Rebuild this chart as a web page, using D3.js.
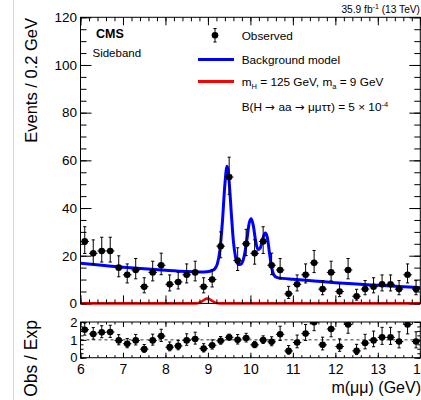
<!DOCTYPE html>
<html>
<head>
<meta charset="utf-8">
<script src="https://cdn.jsdelivr.net/npm/d3@7"></script>
<style>
  body { margin: 0; background: #fff; }
  svg { display: block; }
  text { font-family: "Liberation Sans", Arial, Helvetica, sans-serif; fill: #000; }
  .sym { font-family: "DejaVu Sans", sans-serif; }
</style>
</head>
<body>
<svg id="chart" width="421" height="400"></svg>
<script>
// Dimuon mass bins (0.2 GeV wide), centres in GeV
const binCenters = [6.1, 6.3, 6.5, 6.7, 6.9, 7.1, 7.3, 7.5, 7.7, 7.9,
                    8.1, 8.3, 8.5, 8.7, 8.9, 9.1, 9.3, 9.5, 9.7, 9.9,
                    10.1, 10.3, 10.5, 10.7, 10.9, 11.1, 11.3, 11.5, 11.7, 11.9,
                    12.1, 12.3, 12.5, 12.7, 12.9, 13.1, 13.3, 13.5, 13.7, 13.9];
// Observed events per bin
const observed = [26, 21, 22, 22, 15, 12, 14, 7, 13, 16,
                  8, 9, 12, 13, 7, 10, 24, 53, 18, 25,
                  21, 26, 16, 14, 4, 8, 12, 17, 6, 13,
                  5, 14, 3, 6, 7, 8, 8, 6, 12, 6];
// Observed / expected per bin
const ratio = [1.57, 1.33, 1.42, 1.44, 0.97, 0.78, 0.97, 0.48, 0.97, 1.21,
               0.59, 0.66, 0.97, 1.05, 0.51, 0.70, 0.95, 1.14, 1.00, 1.10,
               0.72, 0.99, 0.89, 1.31, 0.38, 0.85, 1.35, 1.99, 0.72, 1.61,
               0.63, 1.86, 0.38, 0.82, 0.97, 1.14, 1.14, 0.91, 1.86, 0.91];
// Background model (continuum + Upsilon(1S,2S,3S) peaks)
const bgMass = [6.0, 6.5, 7.0, 7.5, 8.0, 8.5, 8.9, 9.05, 9.15, 9.22, 9.28, 9.34, 9.40, 9.45,
                9.50, 9.55, 9.60, 9.65, 9.72, 9.78, 9.85, 9.92, 9.97, 10.02, 10.07, 10.12,
                10.18, 10.23, 10.29, 10.35, 10.40, 10.45, 10.50, 10.55, 10.62, 10.75,
                11.0, 11.5, 12.0, 12.5, 13.0, 13.5, 14.0];
const bgEvents = [16.8, 16.0, 15.2, 14.5, 13.9, 13.4, 13.2, 13.5, 14.3, 16.5, 22, 34, 50, 57.5,
                  51, 38, 26, 19.5, 16.3, 16.5, 19.5, 27, 33.5, 35.5, 32.5, 26.5,
                  22.6, 23.2, 27, 29.5, 27.5, 21, 15, 12, 10.9, 10.5,
                  10.1, 9.4, 8.7, 8.1, 7.6, 7.1, 6.6];
// Signal model, mH = 125 GeV, ma = 9 GeV
const sigMass = [6.0, 8.72, 8.80, 8.86, 8.92, 8.97, 9.02, 9.08, 9.14, 9.20, 9.28, 14.0];
const sigEvents = [0, 0, 0.3, 0.9, 1.6, 2.0, 1.9, 1.3, 0.6, 0.15, 0, 0];
// Axis ticks
const yTicks = [0, 20, 40, 60, 80, 100, 120];
const xTicks = [6, 7, 8, 9, 10, 11, 12, 13, 14];
const rTicks = [0, 1, 2];

// Approximate Poisson (Garwood) intervals
const errUp = n => (n + 1) * Math.pow(1 - 1 / (9 * (n + 1)) + 1 / (3 * Math.sqrt(n + 1)), 3) - n;
const errDn = n => n === 0 ? 0 : n - n * Math.pow(1 - 1 / (9 * n) - 1 / (3 * Math.sqrt(n)), 3);

const svg = d3.select("#chart");
const L = 80.5, R = 420.3;
const T1 = 17.3, B1 = 303.4;
const T2 = 322, B2 = 357.7;
const halfBin = 0.1;

const x = d3.scaleLinear().domain([6, 14]).range([L, R]);
const y = d3.scaleLinear().domain([0, 120]).range([B1, T1]);
const yr = d3.scaleLinear().domain([0, 2]).range([B2, T2]);

// page edge line
svg.append("line").attr("x1", 13.5).attr("x2", 13.5).attr("y1", 0).attr("y2", 400)
  .attr("stroke", "#d6d6d6").attr("stroke-width", 1);

const defs = svg.append("defs");
defs.append("clipPath").attr("id", "clipTop").append("rect")
  .attr("x", L).attr("y", T1).attr("width", R - L).attr("height", B1 - T1 + 2);
defs.append("clipPath").attr("id", "clipBot").append("rect")
  .attr("x", L).attr("y", T2).attr("width", R - L).attr("height", B2 - T2);

// ---------- upper panel ----------
const upper = svg.append("g");

const line = d3.line().curve(d3.curveMonotoneX);
const gCurves = upper.append("g").attr("clip-path", "url(#clipTop)");
gCurves.append("path")
  .attr("d", line(sigMass.map((m, i) => [x(m), y(sigEvents[i])])))
  .attr("fill", "none").attr("stroke", "#ff0000").attr("stroke-width", 2.6);
gCurves.append("path")
  .attr("d", line(bgMass.map((m, i) => [x(m), y(bgEvents[i])])))
  .attr("fill", "none").attr("stroke", "#0000ff").attr("stroke-width", 3);

function drawPoints(g, xs, vals, ys, ups, dns) {
  const pts = g.selectAll("g.pt").data(xs.map((c, i) => ({ c, v: vals[i], u: ups[i], d: dns[i] })))
    .enter().append("g").attr("class", "pt");
  pts.append("line")
    .attr("x1", d => x(d.c)).attr("x2", d => x(d.c))
    .attr("y1", d => ys(d.v + d.u)).attr("y2", d => ys(d.v - d.d))
    .attr("stroke", "#000").attr("stroke-width", 1);
  pts.append("line")
    .attr("x1", d => x(d.c - halfBin)).attr("x2", d => x(d.c + halfBin))
    .attr("y1", d => ys(d.v)).attr("y2", d => ys(d.v))
    .attr("stroke", "#000").attr("stroke-width", 1);
  pts.append("line")
    .attr("x1", d => x(d.c) - 1.6).attr("x2", d => x(d.c) + 1.6)
    .attr("y1", d => ys(d.v + d.u)).attr("y2", d => ys(d.v + d.u))
    .attr("stroke", "#000").attr("stroke-width", 1);
  pts.append("line")
    .attr("x1", d => x(d.c) - 1.6).attr("x2", d => x(d.c) + 1.6)
    .attr("y1", d => ys(d.v - d.d)).attr("y2", d => ys(d.v - d.d))
    .attr("stroke", "#000").attr("stroke-width", 1);
  pts.append("circle")
    .attr("cx", d => x(d.c)).attr("cy", d => ys(d.v)).attr("r", 3.3).attr("fill", "#000");
}

drawPoints(upper.append("g"), binCenters, observed, y,
  observed.map(errUp), observed.map(errDn));

// frame
upper.append("rect").attr("x", L).attr("y", T1).attr("width", R - L).attr("height", B1 - T1)
  .attr("fill", "none").attr("stroke", "#000").attr("stroke-width", 1);

const minorX = d3.range(6, 14.001, 0.2).map(v => +v.toFixed(1));
const minorY = d3.range(0, 120.001, 5);

function styleAxis(g) {
  g.select(".domain").remove();
  g.selectAll("line").attr("stroke", "#000");
  g.selectAll("text").attr("fill", "#000").style("font-family", null);
}

// left axis
upper.append("g").attr("transform", `translate(${L},0)`)
  .call(d3.axisLeft(y).tickValues(minorY).tickSize(-6).tickFormat(""))
  .call(styleAxis);
upper.append("g").attr("transform", `translate(${L},0)`)
  .call(d3.axisLeft(y).tickValues(yTicks).tickSize(-11).tickPadding(3.5).tickFormat(d3.format("d")))
  .call(styleAxis)
  .call(g => g.selectAll("text").attr("font-size", "13.5px"));
// right axis
upper.append("g").attr("transform", `translate(${R},0)`)
  .call(d3.axisRight(y).tickValues(minorY).tickSize(-6).tickFormat(""))
  .call(styleAxis);
upper.append("g").attr("transform", `translate(${R},0)`)
  .call(d3.axisRight(y).tickValues(yTicks).tickSize(-11).tickFormat(""))
  .call(styleAxis);
// bottom and top edges of the upper panel
[[B1, d3.axisBottom], [T1, d3.axisTop]].forEach(([yy, ax]) => {
  upper.append("g").attr("transform", `translate(0,${yy})`)
    .call(ax(x).tickValues(minorX).tickSize(-4).tickFormat(""))
    .call(styleAxis);
  upper.append("g").attr("transform", `translate(0,${yy})`)
    .call(ax(x).tickValues(xTicks).tickSize(-8).tickFormat(""))
    .call(styleAxis);
});

// titles and labels
svg.append("text").attr("transform", "translate(37,18) rotate(-90)")
  .attr("text-anchor", "end").attr("font-size", "16.5px").text("Events / 0.2 GeV");

svg.append("text").attr("x", 96).attr("y", 37.7).attr("font-size", "12.5px")
  .attr("font-weight", "bold").text("CMS");
svg.append("text").attr("x", 92.5).attr("y", 57.3).attr("font-size", "11.5px").text("Sideband");

const lumi = svg.append("text").attr("x", 420).attr("y", 13.3).attr("text-anchor", "end")
  .attr("font-size", "10.2px");
lumi.append("tspan").text("35.9 fb");
lumi.append("tspan").attr("dy", -4).attr("font-size", "7px").text("-1");
lumi.append("tspan").attr("dy", 4).text(" (13 TeV)");

// legend
const lg = svg.append("g");
const lgX = 241.7, fs = "11.8px";
lg.append("line").attr("x1", 215).attr("x2", 215).attr("y1", 28.5).attr("y2", 42)
  .attr("stroke", "#000");
lg.append("line").attr("x1", 213.4).attr("x2", 216.6).attr("y1", 28.5).attr("y2", 28.5).attr("stroke", "#000");
lg.append("line").attr("x1", 213.4).attr("x2", 216.6).attr("y1", 42).attr("y2", 42).attr("stroke", "#000");
lg.append("circle").attr("cx", 215).attr("cy", 35.2).attr("r", 3.3).attr("fill", "#000");
lg.append("text").attr("x", lgX).attr("y", 39.7).attr("font-size", fs).text("Observed");

lg.append("line").attr("x1", 198).attr("x2", 234).attr("y1", 59.5).attr("y2", 59.5)
  .attr("stroke", "#0000ff").attr("stroke-width", 3);
lg.append("text").attr("x", lgX).attr("y", 64).attr("font-size", fs).text("Background model");

lg.append("line").attr("x1", 198).attr("x2", 234).attr("y1", 81.5).attr("y2", 81.5)
  .attr("stroke", "#ff0000").attr("stroke-width", 3);
const sigLbl = lg.append("text").attr("x", lgX).attr("y", 85.8).attr("font-size", fs);
sigLbl.append("tspan").text("m");
sigLbl.append("tspan").attr("dy", 3.5).attr("font-size", "7.5px").text("H");
sigLbl.append("tspan").attr("dy", -3.5).text(" = 125 GeV, m");
sigLbl.append("tspan").attr("dy", 3.5).attr("font-size", "7.5px").text("a");
sigLbl.append("tspan").attr("dy", -3.5).text(" = 9 GeV");

const brLbl = lg.append("text").attr("x", lgX).attr("y", 111).attr("font-size", fs);
brLbl.append("tspan").text("B(H ");
brLbl.append("tspan").attr("class", "sym").text("\u2192");
brLbl.append("tspan").text(" aa ");
brLbl.append("tspan").attr("class", "sym").text("\u2192");
brLbl.append("tspan").text(" \u03bc\u03bc\u03c4\u03c4) = 5 \u00d7 10");
brLbl.append("tspan").attr("dy", -4.5).attr("font-size", "7.5px").text("-4");

// ---------- ratio panel ----------
const lower = svg.append("g");
lower.append("line").attr("x1", L).attr("x2", R).attr("y1", yr(1)).attr("y2", yr(1))
  .attr("stroke", "#333").attr("stroke-width", 1).attr("stroke-dasharray", "3,3");

drawPoints(lower.append("g").attr("clip-path", "url(#clipBot)"), binCenters, ratio, yr,
  observed.map((n, i) => ratio[i] * errUp(n) / n),
  observed.map((n, i) => ratio[i] * errDn(n) / n));

lower.append("rect").attr("x", L).attr("y", T2).attr("width", R - L).attr("height", B2 - T2)
  .attr("fill", "none").attr("stroke", "#000").attr("stroke-width", 1);

const minorR = d3.range(0, 2.001, 0.25);
lower.append("g").attr("transform", `translate(${L},0)`)
  .call(d3.axisLeft(yr).tickValues(minorR).tickSize(-3).tickFormat(""))
  .call(styleAxis);
lower.append("g").attr("transform", `translate(${L},0)`)
  .call(d3.axisLeft(yr).tickValues(rTicks).tickSize(-6).tickPadding(3).tickFormat(d3.format("d")))
  .call(styleAxis)
  .call(g => g.selectAll("text").attr("font-size", "13px"));
lower.append("g").attr("transform", `translate(${R},0)`)
  .call(d3.axisRight(yr).tickValues(minorR).tickSize(-3).tickFormat(""))
  .call(styleAxis);
lower.append("g").attr("transform", `translate(${R},0)`)
  .call(d3.axisRight(yr).tickValues(rTicks).tickSize(-6).tickFormat(""))
  .call(styleAxis);
lower.append("g").attr("transform", `translate(0,${T2})`)
  .call(d3.axisTop(x).tickValues(minorX).tickSize(-2.5).tickFormat(""))
  .call(styleAxis);
lower.append("g").attr("transform", `translate(0,${T2})`)
  .call(d3.axisTop(x).tickValues(xTicks).tickSize(-5).tickFormat(""))
  .call(styleAxis);
lower.append("g").attr("transform", `translate(0,${B2})`)
  .call(d3.axisBottom(x).tickValues(minorX).tickSize(-2.5).tickFormat(""))
  .call(styleAxis);
lower.append("g").attr("transform", `translate(0,${B2})`)
  .call(d3.axisBottom(x).tickValues(xTicks).tickSize(-5).tickPadding(6).tickFormat(d3.format("d")))
  .call(styleAxis)
  .call(g => g.selectAll("text").attr("font-size", "14px").attr("dy", "0.71em").attr("y", 6.5));

svg.append("text").attr("transform", "translate(37,320) rotate(-90)")
  .attr("text-anchor", "end").attr("font-size", "17.5px").text("Obs / Exp");
svg.append("text").attr("x", 421).attr("y", 392.7).attr("text-anchor", "end")
  .attr("font-size", "16px").text("m(\u03bc\u03bc) (GeV)");
</script>
</body>
</html>
